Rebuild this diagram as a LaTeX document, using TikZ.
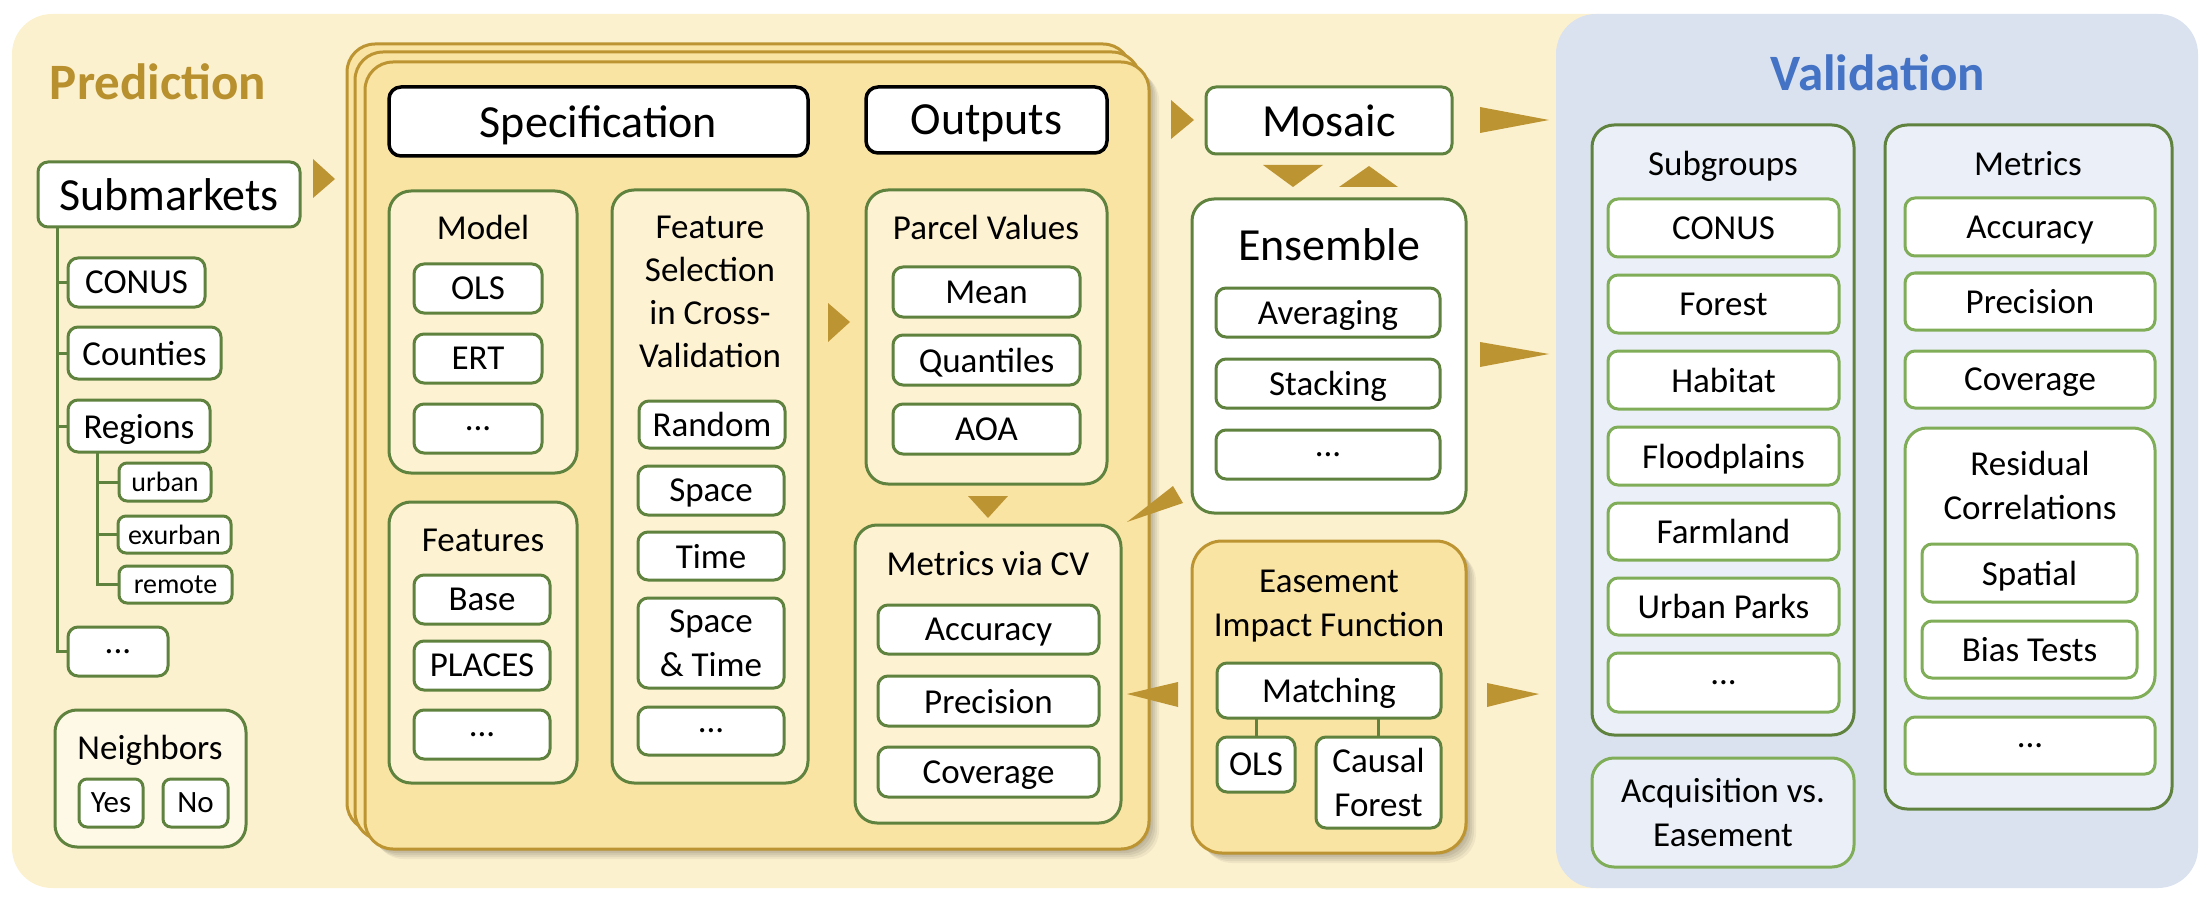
\documentclass[tikz,border=0pt]{standalone}
\usepackage{fontspec}
\setmainfont{Carlito}

\definecolor{bgyel}{HTML}{FCF1CF}
\definecolor{cardyel}{HTML}{FAE4A3}
\definecolor{paneyel}{HTML}{FDF2D2}
\definecolor{nbyel}{HTML}{FEF8E7}
\definecolor{gold}{HTML}{BC9432}
\definecolor{goldtxt}{HTML}{B8912E}
\definecolor{grn}{HTML}{5F823F}
\definecolor{lgrn}{HTML}{80AD58}
\definecolor{bgblue}{HTML}{DAE2EF}
\definecolor{paneblue}{HTML}{EBF0F8}
\definecolor{valblue}{HTML}{4472C4}

\newcommand\fsHead{\fontsize{51}{60}\selectfont\bfseries}
\newcommand\fsBig{\fontsize{46}{55}\selectfont}
\newcommand\fsMid{\fontsize{35}{44}\selectfont}
\newcommand\fsYN{\fontsize{31}{37}\selectfont}
\newcommand\fsSmall{\fontsize{28}{34}\selectfont}

% box node from its corners: style, name, x1, y1, x2, y2, text
\newcommand\mkbox[7]{\node[#1, minimum width={(#5)-(#3)}, minimum height={(#6)-(#4)}] (#2) at ({((#3)+(#5))/2},{((#4)+(#6))/2}) {#7};}

\tikzset{
  every node/.style={outer sep=0pt, inner sep=0pt, text depth=0pt},
  item/.style={draw=grn, line width=3pt, fill=white, rounded corners=10pt, font=\fsMid, align=center},
  vitem/.style={item, draw=lgrn},
  panel/.style={draw=grn, line width=3pt, fill=paneyel, rounded corners=22pt},
  vpanel/.style={panel, fill=paneblue},
  head/.style={draw=black, line width=3.5pt, fill=white, rounded corners=12pt, font=\fsBig},
  card/.style={draw=gold, line width=3pt, fill=cardyel, rounded corners=28pt},
  % soft shadow built from stacked translucent copies of the outline
  shade/.style={
    preaction={fill=black, opacity=.06, transform canvas={shift={(2pt,-2pt)}}},
    preaction={fill=black, opacity=.06, transform canvas={shift={(4pt,-4pt)}}},
    preaction={fill=black, opacity=.06, transform canvas={shift={(6pt,-6pt)}}},
    preaction={fill=black, opacity=.06, transform canvas={shift={(8pt,-8pt)}}},
    preaction={fill=black, opacity=.05, transform canvas={shift={(10pt,-10pt)}}}},
  ttl/.style={font=\fsMid, align=center},
  conn/.style={draw=grn, line width=3pt},
  tri/.style={fill=gold},
}

\begin{document}
\begin{tikzpicture}[x=1pt, y=-1pt]
\useasboundingbox (0,0) rectangle (2212,904);

% ---------- background areas ----------
\fill[bgyel, rounded corners=40pt] (12,14) rectangle (1640,888);
\fill[bgblue, rounded corners=40pt] (1556,14) rectangle (2198,888);

\node[font=\fsHead, text=goldtxt] (predhead) at (158,82) {Prediction};
\node[font=\fsHead, text=valblue] (valhead) at (1878,73) {Validation};

% ---------- submarkets tree ----------
\mkbox{item, font=\fsBig}{sub}{38}{162}{300}{227}{Submarkets}
\mkbox{item}{conus}{68}{258}{205}{307}{CONUS}
\mkbox{item}{counties}{68}{327}{221}{379}{Counties}
\mkbox{item}{regions}{68}{400}{210}{452}{Regions}
\mkbox{item, font=\fsSmall, rounded corners=8pt}{urban}{119}{463}{211}{501}{urban}
\mkbox{item, font=\fsSmall, rounded corners=8pt}{exurban}{118}{516}{231}{553}{exurban}
\mkbox{item, font=\fsSmall, rounded corners=8pt}{remote}{119}{566}{232}{603}{remote}
\mkbox{item}{ldots}{68}{627}{168}{676}{...}

\coordinate (trunk) at ([xshift=19pt]sub.south west);
\draw[conn] (trunk) |- (ldots.west);
\draw[conn] (trunk |- conus.west) -- (conus.west);
\draw[conn] (trunk |- counties.west) -- (counties.west);
\draw[conn] (trunk |- regions.west) -- (regions.west);
\coordinate (rtrunk) at ([xshift=29pt]regions.south west);
\draw[conn] (rtrunk) |- (remote.west);
\draw[conn] (rtrunk |- urban.west) -- (urban.west);
\draw[conn] (rtrunk |- exurban.west) -- (exurban.west);

\mkbox{panel, fill=nbyel}{nbr}{55}{710}{246}{847}{}
\node[ttl] (nbrt) at (150,747) {Neighbors};
\mkbox{item, font=\fsYN, rounded corners=8pt}{yes}{79}{779}{143}{827}{Yes}
\mkbox{item, font=\fsYN, rounded corners=8pt}{no}{163}{779}{228}{827}{No}

% ---------- stacked model card ----------
\mkbox{card}{cardc}{347}{44}{1131}{831}{}
\mkbox{card}{cardb}{355}{52}{1140}{840}{}
\mkbox{card, shade}{carda}{365}{62}{1149}{849}{}

\mkbox{head}{spec}{389}{87}{808}{156}{Specification}
\mkbox{head}{outp}{866}{87}{1107}{153}{Outputs}

\mkbox{panel}{model}{389}{191}{577}{473}{}
\node[ttl] (modelt) at (483,227) {Model};
\mkbox{item}{mols}{414}{264}{542}{313}{OLS}
\mkbox{item}{ert}{414}{334}{542}{383}{ERT}
\mkbox{item}{mdots}{414}{404}{542}{453}{...}

\mkbox{panel}{feat}{389}{502}{577}{783}{}
\node[ttl] (featt) at (483,540) {Features};
\mkbox{item}{base}{414}{575}{550}{624}{Base}
\mkbox{item}{places}{414}{641}{550}{690}{PLACES}
\mkbox{item}{fdots}{414}{710}{550}{759}{...}

\mkbox{panel}{fsel}{612}{190}{808}{783}{}
\node[ttl, font=\fontsize{35}{43}\selectfont] (fselt) at (710,292) {Feature\\Selection\\in Cross-\\Validation};
\mkbox{item}{random}{639}{401}{785}{448}{Random}
\mkbox{item}{space}{638}{466}{784}{515}{Space}
\mkbox{item}{time}{638}{532}{784}{580}{Time}
\mkbox{item}{spti}{638}{598}{784}{688}{Space\\\& Time}
\mkbox{item}{sdots}{638}{707}{784}{755}{...}

\mkbox{panel}{parcel}{866}{190}{1107}{484}{}
\node[ttl] (parcelt) at (986,227) {Parcel Values};
\mkbox{item}{mean}{893}{267}{1080}{317}{Mean}
\mkbox{item}{quant}{893}{335}{1080}{385}{Quantiles}
\mkbox{item}{aoa}{893}{404}{1080}{454}{AOA}

\mkbox{panel}{mcv}{855}{525}{1121}{823}{}
\node[ttl] (mcvt) at (988,563) {Metrics via CV};
\mkbox{item}{acc}{878}{605}{1099}{654}{Accuracy}
\mkbox{item}{prec}{878}{676}{1099}{726}{Precision}
\mkbox{item}{cov}{878}{747}{1099}{797}{Coverage}

% ---------- mosaic, ensemble, easement ----------
\mkbox{item, font=\fsBig}{mosaic}{1206}{87}{1452}{154}{Mosaic}

\mkbox{panel, fill=white}{ens}{1192}{199}{1466}{513}{}
\node[ttl, font=\fsBig] (enst) at (1329,245) {Ensemble};
\mkbox{item}{avg}{1216}{288}{1440}{337}{Averaging}
\mkbox{item}{stack}{1216}{359}{1440}{408}{Stacking}
\mkbox{item}{edots}{1216}{430}{1440}{479}{...}

\mkbox{card, shade, rounded corners=30pt}{ease}{1192}{541}{1466}{853}{}
\node[ttl] (easet) at (1329,603) {Easement\\Impact Function};
\mkbox{item}{match}{1217}{663}{1441}{718}{Matching}
\mkbox{item}{eols}{1217}{737}{1295}{792}{OLS}
\mkbox{item}{causal}{1316}{737}{1441}{828}{Causal\\Forest}
\draw[conn] (eols.north) -- (eols.north |- match.south);
\draw[conn] (causal.north) -- (causal.north |- match.south);

% ---------- validation ----------
\mkbox{vpanel}{subg}{1592}{125}{1854}{735}{}
\node[ttl] (subgt) at (1723,163) {Subgroups};
\mkbox{vitem}{vconus}{1608}{199}{1839}{257}{CONUS}
\mkbox{vitem}{forest}{1608}{275}{1839}{333}{Forest}
\mkbox{vitem}{habitat}{1608}{351}{1839}{409}{Habitat}
\mkbox{vitem}{flood}{1608}{427}{1839}{485}{Floodplains}
\mkbox{vitem}{farm}{1608}{503}{1839}{560}{Farmland}
\mkbox{vitem}{parks}{1608}{578}{1839}{635}{Urban Parks}
\mkbox{vitem}{gdots}{1608}{653}{1839}{712}{...}

\mkbox{vitem, fill=paneblue, rounded corners=22pt}{acq}{1592}{758}{1854}{867}{Acquisition vs.\\Easement}

\mkbox{vpanel}{vmet}{1885}{125}{2172}{809}{}
\node[ttl] (vmett) at (2028,163) {Metrics};
\mkbox{vitem}{vacc}{1905}{198}{2155}{256}{Accuracy}
\mkbox{vitem}{vprec}{1905}{273}{2155}{330}{Precision}
\mkbox{vitem}{vcov}{1905}{351}{2155}{408}{Coverage}
\mkbox{vitem, rounded corners=22pt}{resid}{1905}{428}{2155}{698}{}
\node[ttl] (residt) at (2030,485) {Residual\\Correlations};
\mkbox{vitem}{spatial}{1922}{544}{2137}{602}{Spatial}
\mkbox{vitem}{bias}{1922}{621}{2137}{678}{Bias Tests}
\mkbox{vitem}{vdots}{1905}{717}{2155}{774}{...}

% ---------- flow arrowheads ----------
\fill[tri] (313,159) -- (335,179) -- (313,198) -- cycle;
\fill[tri] (828,303) -- (850,322) -- (828,342) -- cycle;
\fill[tri] (1171,100) -- (1194,120) -- (1171,139) -- cycle;
\fill[tri] (968,496) -- (1008,496) -- (988,518) -- cycle;
\fill[tri] (1263,165) -- (1323,165) -- (1293,187) -- cycle;
\fill[tri] (1339,187) -- (1398,187) -- (1369,166) -- cycle;
\fill[tri] (1480,107) -- (1549,120) -- (1480,133) -- cycle;
\fill[tri] (1480,342) -- (1549,354) -- (1480,367) -- cycle;
\fill[tri] (1127,522) -- (1173,486) -- (1183,503) -- cycle;
\fill[tri] (1178,682) -- (1127,694) -- (1178,707) -- cycle;
\fill[tri] (1487,683) -- (1539,694) -- (1487,707) -- cycle;
\end{tikzpicture}
\end{document}
